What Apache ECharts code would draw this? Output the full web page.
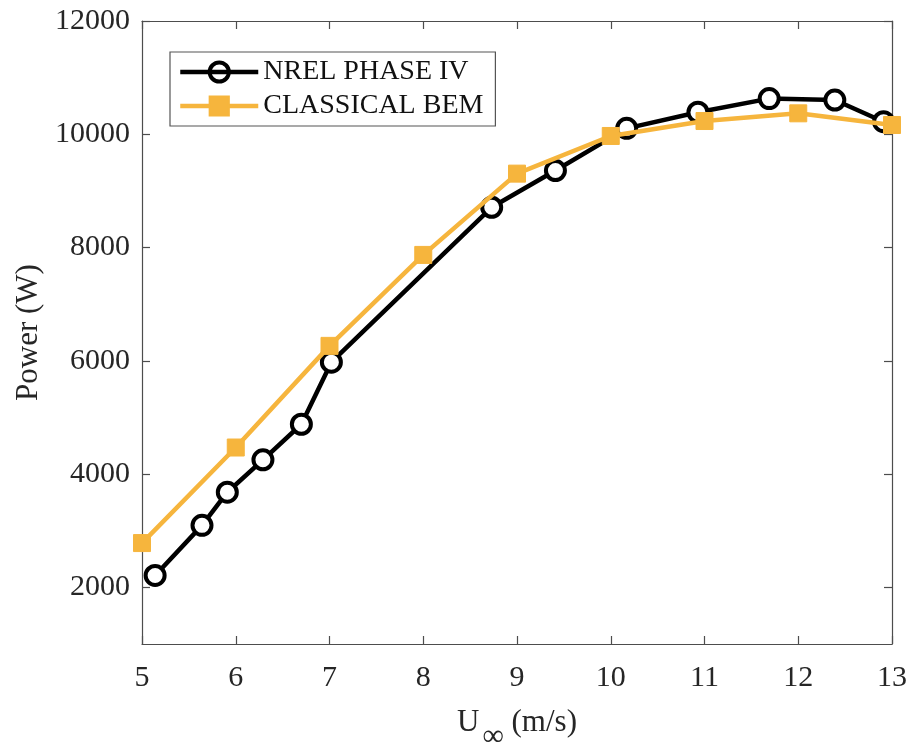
<!DOCTYPE html>
<html>
<head>
<meta charset="utf-8">
<script src="https://cdn.jsdelivr.net/npm/echarts@6/dist/echarts.min.js"></script>
<style>
  html, body { margin: 0; padding: 0; background: #fff; }
  #chart { width: 909px; height: 744px; }
</style>
</head>
<body>
<div id="chart"></div>
<script>
// Measured power curve (NREL Phase IV) and classical BEM prediction
const nrelSpeed = [5.14, 5.64, 5.91, 6.29, 6.70, 7.02, 8.73, 9.41, 10.17, 10.93, 11.69, 12.39, 12.91];
const nrelPower = [2210, 3095, 3680, 4252, 4880, 5976, 8711, 9360, 10105, 10390, 10630, 10605, 10222];
const bemSpeed = [5, 6, 7, 8, 9, 10, 11, 12, 13];
const bemPower = [2782, 4469, 6264, 7870, 9305, 9970, 10234, 10370, 10164];
const xTicks = [5, 6, 7, 8, 9, 10, 11, 12, 13];
const yTicks = [2000, 4000, 6000, 8000, 10000, 12000];

const FONT = '"Liberation Serif", "Times New Roman", serif';
const AXIS_COLOR = '#4d4d4d';
const TEXT_COLOR = '#262626';
const ORANGE = '#F6B53D';

const pairs = (xs, ys) => xs.map((x, i) => [x, ys[i]]);

const baseX = {
  type: 'value', min: 5, max: 13,
  axisLine: { show: true, onZero: false, lineStyle: { color: AXIS_COLOR, width: 1.2 } },
  axisTick: { show: true, inside: true, length: 8, customValues: xTicks, lineStyle: { color: AXIS_COLOR, width: 1.2 } },
  splitLine: { show: false }
};
const baseY = {
  type: 'value', min: 1000, max: 12000,
  axisLine: { show: true, onZero: false, lineStyle: { color: AXIS_COLOR, width: 1.2 } },
  axisTick: { show: true, inside: true, length: 8, customValues: yTicks, lineStyle: { color: AXIS_COLOR, width: 1.2 } },
  splitLine: { show: false }
};

const chart = echarts.init(document.getElementById('chart'), null, { renderer: 'canvas' });
chart.setOption({
  animation: false,
  backgroundColor: '#fff',
  textStyle: { fontFamily: FONT },
  grid: { left: 142, right: 17, top: 21, bottom: 100, containLabel: false, outerBoundsMode: 'none' },
  legend: {
    left: 170, top: 52,
    orient: 'vertical',
    padding: [6, 12, 6, 8],
    itemGap: 6,
    itemWidth: 78,
    itemHeight: 24,
    borderColor: '#555', borderWidth: 1.2,
    backgroundColor: '#fff',
    lineStyle: { width: 4.5 },
    textStyle: { fontFamily: FONT, fontSize: 28, color: '#111', padding: [0, 0, 0, 0] },
    data: [
      { name: 'NREL PHASE IV', itemStyle: { color: 'rgba(255,255,255,0)', borderColor: '#000', borderWidth: 4 } },
      { name: 'CLASSICAL BEM' }
    ]
  },
  xAxis: [
    Object.assign({}, baseX, {
      position: 'bottom',
      axisLabel: { show: true, customValues: xTicks, margin: 19, fontSize: 30, color: TEXT_COLOR, fontFamily: FONT },
      name: '{a|U}{sub|∞}{a| (m/s)}',
      nameLocation: 'middle',
      nameGap: 50,
      nameTextStyle: {
        rich: {
          a: { fontSize: 31, color: TEXT_COLOR, fontFamily: FONT },
          sub: { fontSize: 30, color: TEXT_COLOR, fontFamily: FONT, padding: [28, 0, 0, 3] }
        }
      }
    }),
    Object.assign({}, baseX, { position: 'top', axisLabel: { show: false } })
  ],
  yAxis: [
    Object.assign({}, baseY, {
      position: 'left',
      axisLabel: { show: true, customValues: yTicks, margin: 12, fontSize: 30, color: TEXT_COLOR, fontFamily: FONT,
        formatter: v => String(v) },
      name: 'Power (W)',
      nameLocation: 'middle',
      nameRotate: 90,
      nameGap: 97,
      nameTextStyle: { fontSize: 31, color: TEXT_COLOR, fontFamily: FONT }
    }),
    Object.assign({}, baseY, { position: 'right', axisLabel: { show: false } })
  ],
  series: [
    {
      name: 'NREL PHASE IV',
      type: 'line',
      data: pairs(nrelSpeed, nrelPower),
      symbol: 'circle',
      symbolSize: 19,
      lineStyle: { color: '#000', width: 4.5 },
      itemStyle: { color: '#fff', borderColor: '#000', borderWidth: 4 },
      z: 2
    },
    {
      name: 'CLASSICAL BEM',
      type: 'line',
      data: pairs(bemSpeed, bemPower),
      symbol: 'rect',
      symbolSize: 17,
      lineStyle: { color: ORANGE, width: 4.5 },
      itemStyle: { color: ORANGE, borderColor: ORANGE, borderWidth: 1 },
      z: 3
    }
  ]
});
</script>
</body>
</html>
